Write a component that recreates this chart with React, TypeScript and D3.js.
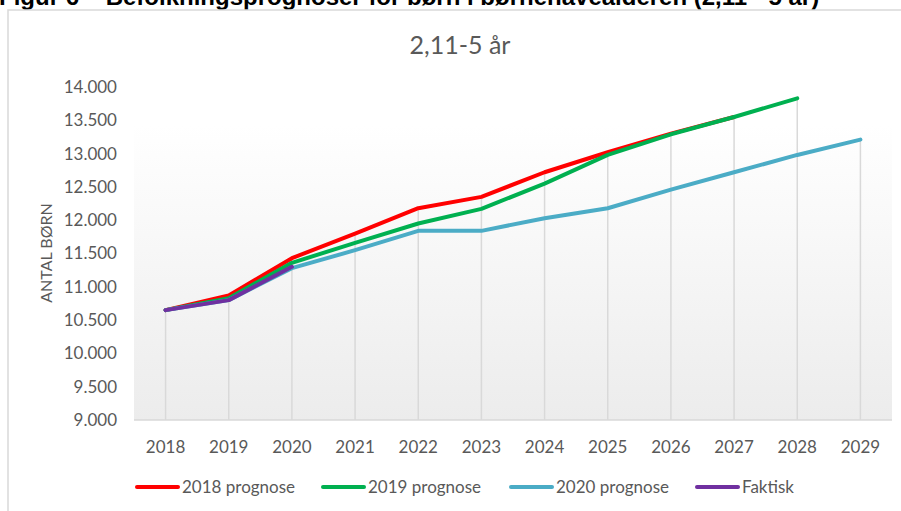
import React from "react";
import * as d3 from "d3";

const years = ["2018", "2019", "2020", "2021", "2022", "2023", "2024", "2025", "2026", "2027", "2028", "2029"];

// prognoser (antal børn 2,11-5 år)
const prog2018 = [10650, 10870, 11430, 11800, 12180, 12350, 12720, 13020, 13300, 13550];
const prog2019 = [10650, 10830, 11360, 11660, 11950, 12170, 12550, 12980, 13290, 13550, 13830];
const prog2020 = [10650, 10800, 11280, 11550, 11840, 11840, 12030, 12180, 12460, 12720, 12980, 13210];
const faktisk = [10650, 10800, 11300];

const yTicks = [9000, 9500, 10000, 10500, 11000, 11500, 12000, 12500, 13000, 13500, 14000];

const seriesList = [
  { name: "2018 prognose", color: "#ff0000", values: prog2018 },
  { name: "2019 prognose", color: "#00b050", values: prog2019 },
  { name: "2020 prognose", color: "#4bacc6", values: prog2020 },
  { name: "Faktisk", color: "#7030a0", values: faktisk },
];

const W = 901;
const H = 511;
const FONT = "Lato, 'Open Sans', sans-serif";
const GREY = "#595959";

const tickLabel = (v: number) => d3.format(",.0f")(v).replace(/,/g, ".");

const App: React.FC = () => {
  const x = d3.scaleBand<string>().domain(years).range([134, 892]);
  const y = d3.scaleLinear().domain([9000, 14000]).range([420, 87]);
  const cx = (yr: string) => (x(yr) ?? 0) + x.bandwidth() / 2;

  const line = d3
    .line<number>()
    .x((_, i) => cx(years[i]))
    .y((d) => y(d));

  // drop lines: fra højeste værdi ned til aksen
  const drops = years.map((yr, i) => {
    const vals = seriesList.map((s) => s.values[i]).filter((v) => v !== undefined);
    return { yr, max: d3.max(vals) ?? 9000 };
  });

  const legendX = [137, 323, 511, 697];

  return (
    <svg width={W} height={H} style={{ position: "absolute", left: 0, top: 0, background: "#fff" }}>
      <defs>
        <linearGradient id="plotBg" x1="0" y1="0" x2="0" y2="1">
          <stop offset="0%" stopColor="#ffffff" />
          <stop offset="100%" stopColor="#ececec" />
        </linearGradient>
      </defs>

      {/* afskåret figurtekst øverst */}
      <text x={-1} y={5} fontFamily="'Liberation Sans', Arial, sans-serif" fontWeight="bold" fontSize={24} fill="#000">
        Figur 6 – Befolkningsprognoser for børn i børnehavealderen (2,11 - 5 år)
      </text>

      {/* ramme */}
      <path d={`M8,${H} V10 H${W}`} fill="none" stroke="#d9d9d9" strokeWidth={1.5} />

      <text x={460} y={54} textAnchor="middle" fontFamily={FONT} fontSize={25} fill={GREY}>
        2,11-5 år
      </text>

      {/* plotområde */}
      <rect x={134} y={125} width={758} height={295} fill="url(#plotBg)" />

      {drops.map((d) => (
        <line key={d.yr} x1={cx(d.yr)} x2={cx(d.yr)} y1={y(d.max)} y2={y(9000)} stroke="#d9d9d9" strokeWidth={1.5} />
      ))}
      <line x1={134} x2={892} y1={y(9000)} y2={y(9000)} stroke="#d9d9d9" strokeWidth={1.5} />

      {yTicks.map((t) => (
        <text key={t} x={117} y={y(t)} dy="0.35em" textAnchor="end" fontFamily={FONT} fontSize={17} fill={GREY}>
          {tickLabel(t)}
        </text>
      ))}

      {years.map((yr) => (
        <text key={yr} x={cx(yr)} y={447} dy="0.35em" textAnchor="middle" fontFamily={FONT} fontSize={17} fill={GREY}>
          {yr}
        </text>
      ))}

      <text
        transform={`translate(46,253) rotate(-90)`}
        textAnchor="middle"
        dy="0.35em"
        fontFamily={FONT}
        fontSize={16}
        fill={GREY}
      >
        ANTAL BØRN
      </text>

      {seriesList.map((s) => (
        <path
          key={s.name}
          d={line(s.values) ?? ""}
          fill="none"
          stroke={s.color}
          strokeWidth={4}
          strokeLinecap="round"
          strokeLinejoin="round"
        />
      ))}

      {seriesList.map((s, i) => (
        <g key={s.name} transform={`translate(${legendX[i]},487)`}>
          <line x1={0} x2={41} y1={0} y2={0} stroke={s.color} strokeWidth={4} strokeLinecap="round" />
          <text x={45} y={0} dy="0.35em" fontFamily={FONT} fontSize={17} fill={GREY}>
            {s.name}
          </text>
        </g>
      ))}
    </svg>
  );
};

export default App;
